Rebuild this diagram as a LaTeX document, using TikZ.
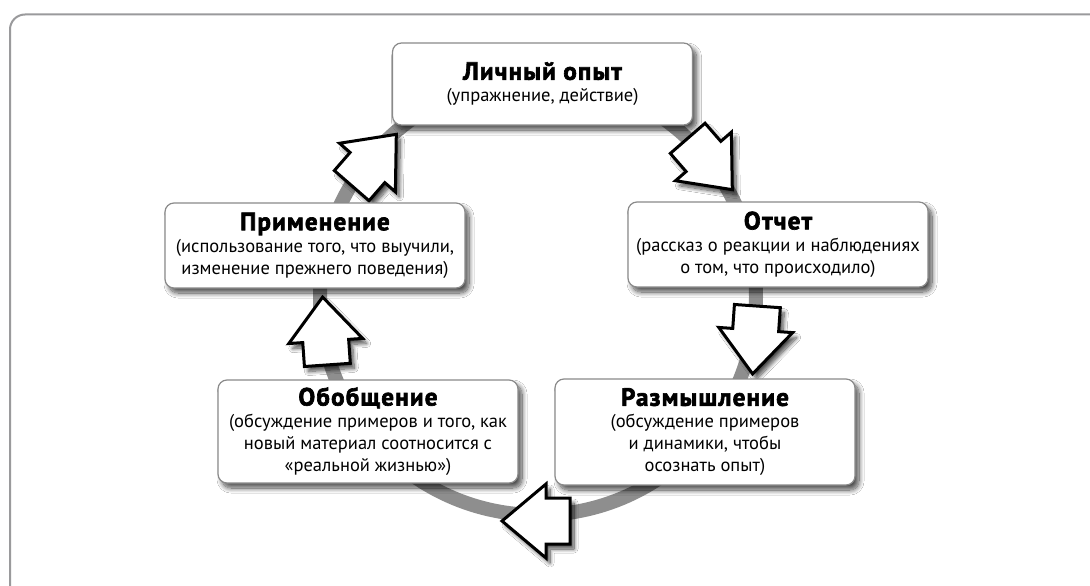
\documentclass[tikz,border=0pt]{standalone}
\usepackage{fontspec}
\setmainfont{PT Sans}
\newfontfamily\ttlfont[FakeBold=2.6,LetterSpace=5]{PT Sans Bold}
\usetikzlibrary{shadows.blur}
\definecolor{framec}{HTML}{9A9A9C}
\definecolor{ringc}{HTML}{8E8E8E}
\definecolor{boxc}{HTML}{8A8A8A}
\newcommand\ttl[1]{{\ttlfont\fontsize{25}{25}\selectfont #1}}
\newcommand\blockarr[3]{%
  \path[arrowst, shift={(#1,#2)}, rotate=#3]
    (-34pt,-23pt) -- (-10pt,-23pt) -- (-10pt,-37pt) -- (34pt,0pt) --
    (-10pt,37pt) -- (-10pt,23pt) -- (-34pt,23pt) -- cycle;}
\tikzset{
  stagebox/.style={draw=boxc, line width=1.2pt, fill=white, rounded corners=9pt,
    align=center, inner sep=0pt, minimum width=300pt,
    font=\fontsize{18.5}{22}\selectfont,
    blur shadow={shadow xshift=4pt, shadow yshift=-5pt, shadow blur radius=5pt,
      shadow blur steps=12, shadow opacity=70}},
  arrowst/.style={draw=black, line width=3pt, line join=miter, fill=white,
    blur shadow={shadow xshift=4pt, shadow yshift=-5pt, shadow blur radius=4pt,
      shadow blur steps=10, shadow opacity=70}},
}
\begin{document}
\begin{tikzpicture}[x=1pt,y=-1pt]
\useasboundingbox (0,0) rectangle (1090,586);
\fill[white] (0,0) rectangle (1090,586);
% outer frame (top and left only)
\draw[framec, line width=2pt, rounded corners=15pt] (10,600) -- (10,14.5) -- (1100,14.5);
% ring
\coordinate (ringc) at (538,297);
\draw[ringc, line width=14pt] (ringc) circle[radius=218pt];
% arrows
\blockarr{374}{160}{49}
\blockarr{710}{164}{-49}
\blockarr{755}{340}{-94}
\blockarr{325}{331}{94}
\blockarr{536}{521}{180}
% boxes
\node[stagebox, minimum height=82pt] (exp) at (542.5,84)
  {\ttl{Личный опыт}\\(упражнение, действие)};
\node[stagebox, minimum height=85pt] (rep) at (778,244.5)
  {\ttl{Отчет}\\(рассказ о реакции и наблюдениях\\о том, что происходило)};
\node[stagebox, minimum height=106pt] (refl) at (705,432)
  {\ttl{Размышление}\\(обсуждение примеров\\и динамики, чтобы\\осознать опыт)};
\node[stagebox, minimum height=103pt] (gen) at (368,431.5)
  {\ttl{Обобщение}\\(обсуждение примеров и того, как\\новый материал соотносится с\\«реальной жизнью»)};
\node[stagebox, minimum height=85pt] (app) at (315,245.5)
  {\ttl{Применение}\\(использование того, что выучили,\\изменение прежнего поведения)};
\end{tikzpicture}
\end{document}
